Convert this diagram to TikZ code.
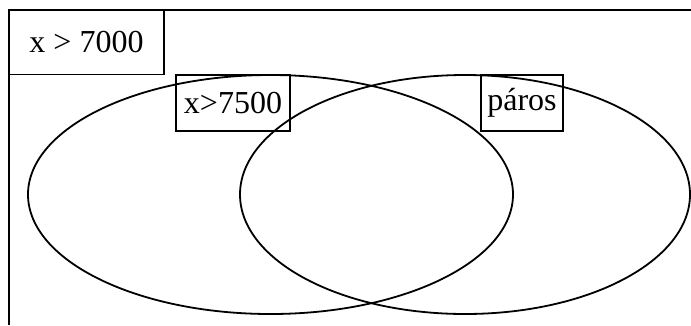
\documentclass[tikz,border=0pt]{standalone}
\usepackage{fontspec}
\setmainfont{Liberation Serif}
\usetikzlibrary{shapes.geometric}
\begin{document}
\begin{tikzpicture}[x=1pt,y=-1pt,
  ln/.style={line width=1.8pt},
  lbl/.style={draw,line width=1.6pt,inner sep=0pt,font=\fontsize{32}{34}\selectfont},
  venn/.style={draw,ellipse,line width=1.8pt,inner sep=0pt}]
\useasboundingbox (0,0) rectangle (691,325);
\coordinate (tl) at (9,10);
\coordinate (tr) at (691,10);
\coordinate (bl) at (9,325);
\draw[ln] (tr) -- (tl) -- (bl);
\node[venn,minimum width=485pt,minimum height=239pt] (A) at (270.5,194.5) {};
\node[venn,minimum width=450pt,minimum height=239pt] (B) at (465,194.5) {};
\node[lbl,minimum width=155pt,minimum height=64pt] (u) at (86.5,42.5) {x > 7000};
\node[lbl,minimum width=114pt,minimum height=56pt] (a) at (233,103) {x>7500};
\node[lbl,minimum width=82pt,minimum height=56pt] (b) at (522,103) {páros};
\end{tikzpicture}
\end{document}
